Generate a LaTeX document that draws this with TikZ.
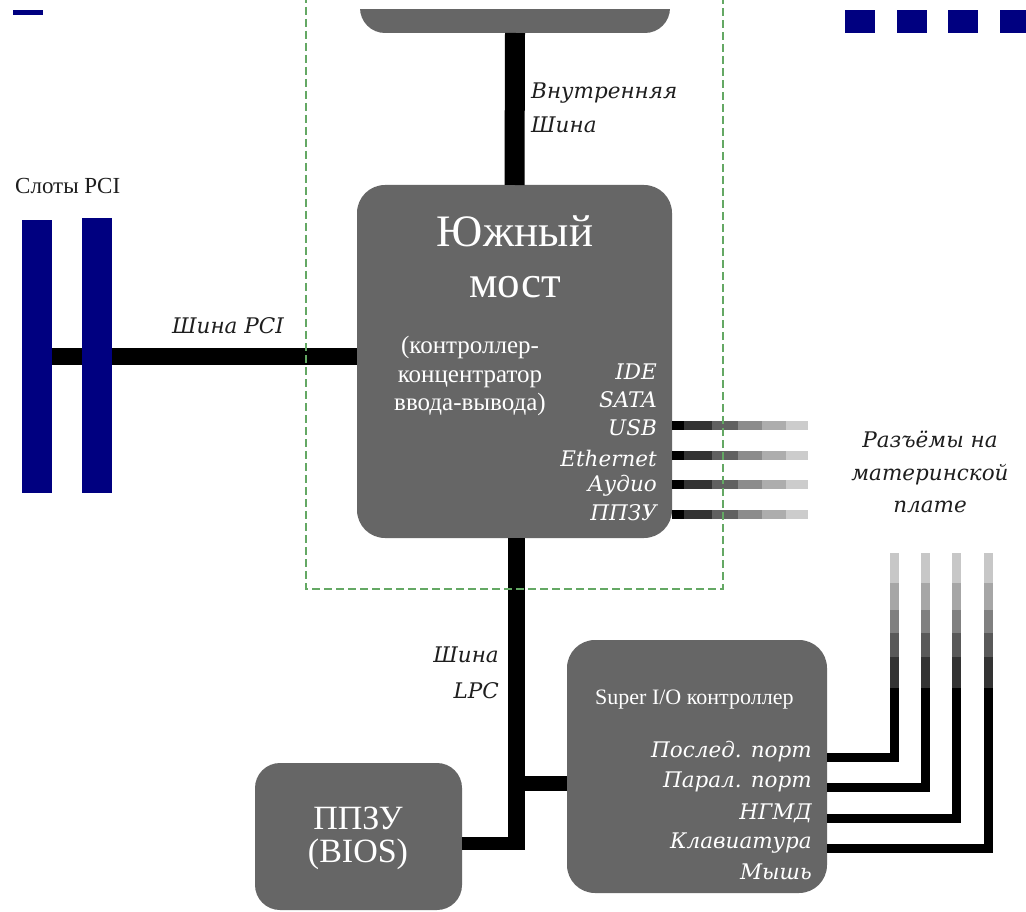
\documentclass[tikz,border=0pt]{standalone}
\usepackage{fontspec}
\setmainfont{Liberation Serif}
\newfontfamily\itf{DejaVu Serif}
\definecolor{boxgray}{RGB}{102,102,102}
\definecolor{slotblue}{RGB}{0,0,128}
\definecolor{dashgreen}{RGB}{100,168,100}
\definecolor{txt}{RGB}{30,30,30}
\tikzset{
  box/.style={fill=boxgray, draw=none, rounded corners=28, inner sep=0pt, outer sep=0pt},
  slot/.style={fill=slotblue, draw=none, inner sep=0pt, outer sep=0pt},
  wtxt/.style={text=white, inner sep=0pt},
  btxt/.style={text=txt, inner sep=0pt},
  itl/.style={font=\itf\itshape\fontsize{21.5}{26}\selectfont},
  portline/.style={line width=9pt},
}
\begin{document}
\begin{tikzpicture}[x=1pt,y=-1pt]
\fill[white] (0,0) rectangle (1026,912);
\useasboundingbox (0,0) rectangle (1026,912);

% slide decorations
\fill[slotblue] (13,10) rectangle (43,15);
\fill[slotblue] (845,10) rectangle (875,33);
\fill[slotblue] (897,10) rectangle (927,33);
\fill[slotblue] (948,10) rectangle (978,33);
\fill[slotblue] (1000,10) rectangle (1030,33);

% north bridge (cut off)
\begin{scope}
\clip (0,10) rectangle (1026,912);
\node[box, rounded corners=25, minimum width=310pt, minimum height=63pt] (nb) at (515,1.5) {};
\end{scope}

% south bridge
\node[box, minimum width=315pt, minimum height=353pt] (sb) at (514.5,361.5) {};
% super I/O
\node[box, minimum width=260pt, minimum height=253pt] (sio) at (697,766.5) {};
% BIOS
\node[box, rounded corners=25, minimum width=207pt, minimum height=147pt] (bios) at (358.5,836.5) {};

% PCI slots
\coordinate (pcij) at (37,356.5);
\draw[line width=17pt] (pcij) -- (sb.west|-pcij);
\node[slot, minimum width=30pt, minimum height=273pt] (slot1) at (37,356.5) {};
\node[slot, minimum width=30pt, minimum height=275pt] (slot2) at (97,355.5) {};

% internal bus
\draw[line width=20pt] (nb.south) -- (sb.north);
% LPC bus
\coordinate (lpcend) at (516,850);
\coordinate (j1) at (516,783);
\coordinate (j2) at (516,843);
\draw[line width=17pt] (sb.south-|lpcend) -- (lpcend);
\draw[line width=15pt] (j1) -- (sio.west|-j1);
\draw[line width=13pt] (bios.east|-j2) -- ([xshift=8pt]j2);

% south bridge ports
\foreach \y [count=\i] in {425,455,484,514}{
  \coordinate (pe\i) at (808,\y);
  \draw[portline,black] (sb.east|-pe\i) -- (684,\y);
  \draw[portline,black!80] (684,\y) -- (712,\y);
  \draw[portline,black!62] (712,\y) -- (738,\y);
  \draw[portline,black!45] (738,\y) -- (762,\y);
  \draw[portline,black!32] (762,\y) -- (786,\y);
  \draw[portline,black!20] (786,\y) -- (pe\i);
}

% super I/O ports
\foreach \y/\x [count=\i] in {757/894,787/925,818/956,848/988}{
  \coordinate (sp\i) at (\x,553);
  \draw[portline,black,line join=miter] (sio.east|-0,\y) -- (\x,\y) -- (\x,688);
  \draw[portline,black!80] (\x,688) -- (\x,657);
  \draw[portline,black!65] (\x,657) -- (\x,633);
  \draw[portline,black!50] (\x,633) -- (\x,610);
  \draw[portline,black!35] (\x,610) -- (\x,583);
  \draw[portline,black!22] (\x,583) -- (sp\i);
}

% dashed boundary
\draw[dashgreen, line width=1.5pt, dash pattern=on 8pt off 4pt] (306,-5) rectangle (723,589);

% south bridge texts
\node[wtxt, font=\fontsize{45}{52}\selectfont] (sbt1) at (515,231) {Южный};
\node[wtxt, font=\fontsize{45}{52}\selectfont] (sbt2) at (515,287) {мост};
\node[wtxt, font=\fontsize{25}{28.5}\selectfont, align=center] (sbt3) at (470,376) {(контроллер-\\концентратор\\ввода-вывода)};
\foreach \t/\y [count=\i] in {IDE/372,SATA/400,USB/428,Ethernet/458,Аудио/486,ППЗУ/513}{
  \node[wtxt, itl, anchor=east] (sbl\i) at (657,\y) {\t};
}

% super I/O texts
\node[wtxt, font=\fontsize{22}{26}\selectfont, anchor=west] (siot) at (595,700) {Super I/O контроллер};
\foreach \t/\y [count=\i] in {Послед. порт/752,Парал. порт/782,НГМД/813,Клавиатура/843,Мышь/872}{
  \node[wtxt, itl, anchor=east] (siol\i) at (812,\y) {\t};
}

% BIOS texts
\node[wtxt, font=\fontsize{34}{38}\selectfont] (biost1) at (358,818) {ППЗУ};
\node[wtxt, font=\fontsize{34}{38}\selectfont] (biost2) at (358,854) {(BIOS)};

% outer labels
\node[btxt, font=\fontsize{23}{27}\selectfont, anchor=west] (slotlbl) at (15,186) {Слоты PCI};
\node[btxt, itl, anchor=west] (pcilbl) at (172,326) {Шина PCI};
\node[btxt, itl, anchor=west] (intlbl1) at (531,93) {Внутренняя};
\node[btxt, itl, anchor=west] (intlbl2) at (531,125) {Шина};
\node[btxt, itl, anchor=east] (lpclbl1) at (499,655) {Шина};
\node[btxt, itl, anchor=east] (lpclbl2) at (499,691) {LPC};
\node[btxt, itl, align=center, font=\itf\itshape\fontsize{21.5}{32.5}\selectfont] (conlbl) at (930,472) {Разъёмы на\\материнской\\плате};
\end{tikzpicture}
\end{document}
